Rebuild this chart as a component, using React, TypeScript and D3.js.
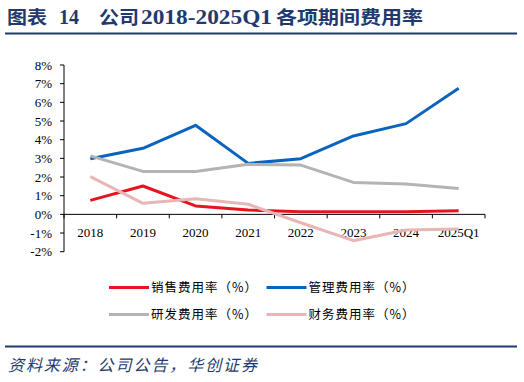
import React from "react";
import * as d3 from "d3";

const categories = ["2018", "2019", "2020", "2021", "2022", "2023", "2024", "2025Q1"];
const sales = [0.75, 1.52, 0.45, 0.23, 0.14, 0.14, 0.14, 0.2];
const admin = [2.98, 3.54, 4.77, 2.73, 2.98, 4.2, 4.86, 6.75];
const rnd = [3.13, 2.3, 2.3, 2.68, 2.64, 1.71, 1.63, 1.38];
const finance = [2.02, 0.59, 0.84, 0.54, -0.45, -1.41, -0.84, -0.79];
const yTicks = [-2, -1, 0, 1, 2, 3, 4, 5, 6, 7, 8];

const seriesList = [
  { name: "销售费用率（%）", values: sales, color: "#e6141e" },
  { name: "管理费用率（%）", values: admin, color: "#0a64be" },
  { name: "研发费用率（%）", values: rnd, color: "#b4b4b4" },
  { name: "财务费用率（%）", values: finance, color: "#e8b6b6" },
];

const titleParts = [
  { t: "图表", x: 7, len: 40, cjk: true },
  { t: "14", x: 59, len: 20, cjk: false },
  { t: "公司", x: 99, len: 40, cjk: true },
  { t: "2018-2025Q1", x: 141, len: 131, cjk: false },
  { t: "各项期间费用率", x: 276, len: 147, cjk: true },
];

export default function App() {
  const W = 524, H = 382;
  const x0 = 64, x1 = 485, yTop = 65, yBot = 251.7;
  const x = d3.scaleBand<string>().domain(categories).range([x0, x1]);
  const y = d3.scaleLinear().domain([-2, 8]).range([yBot, yTop]);
  const line = (vals: number[]) =>
    d3.line<number>()
      .x((_, i) => (x(categories[i]) as number) + x.bandwidth() / 2)
      .y((v) => y(v))(vals) as string;
  const navy = "#1f3a6e";
  const legendPos = [
    { lx: 109, ly: 287.5 },
    { lx: 266.5, ly: 287.5 },
    { lx: 109, ly: 314.5 },
    { lx: 266.5, ly: 314.5 },
  ];
  const boundaries = categories.map((c) => x(c) as number).concat([x1]);
  return (
    <svg width={W} height={H} style={{ position: "absolute", left: 0, top: 0 }}>
      <rect width={W} height={H} fill="#fff" />
      {titleParts.map((p) => (
        <text
          key={p.t}
          x={p.x}
          y={24}
          textLength={p.len}
          lengthAdjust="spacingAndGlyphs"
          fontFamily={p.cjk ? "'Noto Sans CJK SC',sans-serif" : "'Liberation Serif',serif"}
          fontWeight="bold"
          fontSize={p.cjk ? 18.5 : 20}
          fill={navy}
        >
          {p.t}
        </text>
      ))}
      <line x1={5} x2={517} y1={33.5} y2={33.5} stroke={navy} strokeWidth={2} />
      {/* y axis */}
      <line x1={x0} x2={x0} y1={yTop} y2={yBot} stroke="#000" strokeWidth={1} />
      {yTicks.map((t) => (
        <g key={t}>
          <line x1={x0 - 4} x2={x0} y1={y(t)} y2={y(t)} stroke="#000" />
          <text x={52} y={y(t)} dy="0.35em" textAnchor="end" fontFamily="'Liberation Serif',serif" fontSize={13} fill="#000">
            {t}%
          </text>
        </g>
      ))}
      {/* x axis */}
      <line x1={x0} x2={x1} y1={y(0)} y2={y(0)} stroke="#000" strokeWidth={1} />
      {boundaries.map((b, i) => (
        <line key={i} x1={b} x2={b} y1={y(0)} y2={y(0) + 4} stroke="#000" />
      ))}
      {categories.map((c) => (
        <text key={c} x={(x(c) as number) + x.bandwidth() / 2} y={232} dy="0.35em" textAnchor="middle" fontFamily="'Liberation Serif',serif" fontSize={13} fill="#000">
          {c}
        </text>
      ))}
      {seriesList.map((s) => (
        <path key={s.name} d={line(s.values)} fill="none" stroke={s.color} strokeWidth={3} strokeLinejoin="round" />
      ))}
      {seriesList.map((s, i) => (
        <g key={s.name}>
          <line x1={legendPos[i].lx} x2={legendPos[i].lx + 40} y1={legendPos[i].ly} y2={legendPos[i].ly} stroke={s.color} strokeWidth={3} />
          <text
            x={legendPos[i].lx + 42}
            y={legendPos[i].ly}
            dy="0.35em"
            textLength={106}
            lengthAdjust="spacing"
            fontFamily="'Noto Sans CJK SC',sans-serif"
            fontSize={12.5}
            fill="#000"
          >
            {s.name}
          </text>
        </g>
      ))}
      <line x1={5} x2={517} y1={346.5} y2={346.5} stroke={navy} strokeWidth={2} />
      <text
        x={8}
        y={371}
        textLength={249}
        lengthAdjust="spacing"
        fontFamily="'Noto Sans CJK SC',sans-serif"
        fontStyle="italic"
        fontSize={16}
        fill={navy}
      >
        资料来源：公司公告，华创证券
      </text>
    </svg>
  );
}
